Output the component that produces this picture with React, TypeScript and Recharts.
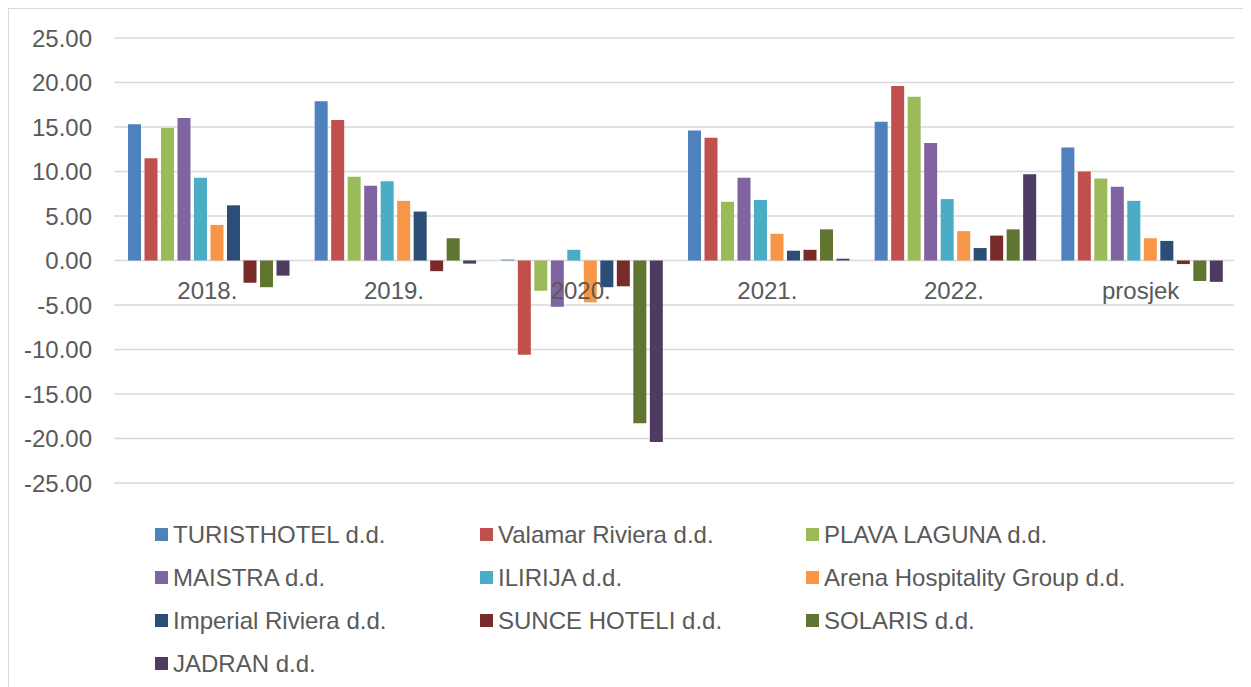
import React from 'react'
import { BarChart, Bar, XAxis, YAxis, CartesianGrid, Legend } from 'recharts'

const categories = ['2018.', '2019.', '2020.', '2021.', '2022.', 'prosjek']

const turisthotel = [15.3, 17.9, 0.1, 14.6, 15.6, 12.7]
const valamar = [11.5, 15.8, -10.6, 13.8, 19.6, 10.0]
const plavaLaguna = [14.9, 9.4, -3.4, 6.6, 18.4, 9.2]
const maistra = [16.0, 8.4, -5.2, 9.3, 13.2, 8.3]
const ilirija = [9.3, 8.9, 1.2, 6.8, 6.9, 6.7]
const arena = [4.0, 6.7, -4.7, 3.0, 3.3, 2.5]
const imperial = [6.2, 5.5, -3.0, 1.1, 1.4, 2.2]
const sunce = [-2.5, -1.2, -2.9, 1.2, 2.8, -0.4]
const solaris = [-3.0, 2.5, -18.3, 3.5, 3.5, -2.3]
const jadran = [-1.7, -0.35, -20.4, 0.2, 9.7, -2.4]

const yTicks = [-25, -20, -15, -10, -5, 0, 5, 10, 15, 20, 25]

const series = [
  { key: 'turisthotel', name: 'TURISTHOTEL d.d.', color: '#4F81BD', values: turisthotel },
  { key: 'valamar', name: 'Valamar Riviera d.d.', color: '#C0504D', values: valamar },
  { key: 'plava', name: 'PLAVA LAGUNA d.d.', color: '#9BBB59', values: plavaLaguna },
  { key: 'maistra', name: 'MAISTRA d.d.', color: '#8064A2', values: maistra },
  { key: 'ilirija', name: 'ILIRIJA d.d.', color: '#4BACC6', values: ilirija },
  { key: 'arena', name: 'Arena Hospitality Group d.d.', color: '#F79646', values: arena },
  { key: 'imperial', name: 'Imperial Riviera d.d.', color: '#2C4D75', values: imperial },
  { key: 'sunce', name: 'SUNCE HOTELI d.d.', color: '#772C2A', values: sunce },
  { key: 'solaris', name: 'SOLARIS d.d.', color: '#5F7530', values: solaris },
  { key: 'jadran', name: 'JADRAN d.d.', color: '#4D3B62', values: jadran },
]

const data = categories.map((cat, i) => {
  const row: Record<string, string | number> = { cat }
  series.forEach((s) => {
    row[s.key] = s.values[i]
  })
  return row
})

const WIDTH = 1242
const HEIGHT = 678
const MARGIN = { top: 29, right: 17, left: 0, bottom: 2 }
const X_AXIS_H = 30
const LEGEND_H = 172
const PLOT_H = HEIGHT - MARGIN.top - MARGIN.bottom - X_AXIS_H - LEGEND_H
const Y_MIN = -25
const Y_MAX = 25
const ZERO_Y = MARGIN.top + (PLOT_H * Y_MAX) / (Y_MAX - Y_MIN)

const textColor = '#595959'
const font = '"Liberation Sans", Arial, sans-serif'

// category labels sit just under the zero line, like in Excel
const CategoryTick = (props: any) => {
  const { x, payload } = props
  return (
    <text x={x} y={ZERO_Y + 38} textAnchor="middle" fill={textColor} fontSize={24} fontFamily={font}>
      {payload.value}
    </text>
  )
}

const LegendGrid = () => (
  <div
    style={{
      height: LEGEND_H,
      display: 'grid',
      gridTemplateColumns: '325px 326px 326px',
      gridAutoRows: 43,
      paddingLeft: 146,
      boxSizing: 'border-box',
    }}
  >
    {series.map((s) => (
      <div key={s.key} style={{ display: 'flex', alignItems: 'center', whiteSpace: 'nowrap' }}>
        <span style={{ width: 13, height: 13, background: s.color, marginRight: 5, flex: 'none' }} />
        <span style={{ fontSize: 24, color: textColor, fontFamily: font }}>{s.name}</span>
      </div>
    ))}
  </div>
)

export default function App() {
  return (
    <div
      style={{
        width: WIDTH + 1,
        height: HEIGHT + 1,
        borderLeft: '1px solid #d9d9d9',
        borderTop: '1px solid #d9d9d9',
        background: '#fff',
        fontFamily: font,
      }}
    >
      <BarChart
        width={WIDTH}
        height={HEIGHT}
        data={data}
        margin={MARGIN}
        barCategoryGap="7.5%"
        barGap={3.5}
      >
        <CartesianGrid vertical={false} stroke="#d9d9d9" strokeWidth={1.5} />
        <XAxis
          dataKey="cat"
          axisLine={false}
          tickLine={false}
          height={X_AXIS_H}
          tick={<CategoryTick />}
          interval={0}
        />
        <YAxis
          width={105}
          domain={[Y_MIN, Y_MAX]}
          ticks={yTicks}
          axisLine={false}
          tickLine={false}
          tickMargin={16}
          tick={{ fontSize: 24, fill: textColor, fontFamily: font }}
          tickFormatter={(v: number) => v.toFixed(2)}
        />
        <Legend verticalAlign="bottom" height={LEGEND_H} content={<LegendGrid />} />
        {series.map((s) => (
          <Bar key={s.key} dataKey={s.key} name={s.name} fill={s.color} isAnimationActive={false} />
        ))}
      </BarChart>
    </div>
  )
}
